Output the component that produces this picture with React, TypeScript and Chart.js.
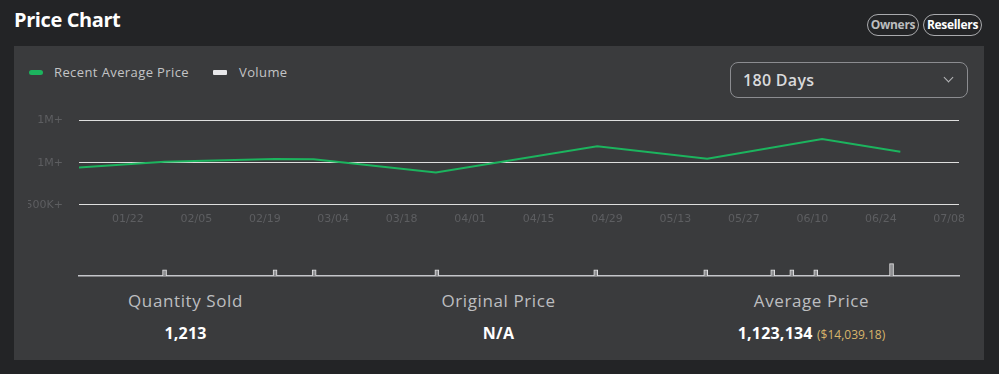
import React, { useEffect, useRef } from 'react';
import { Chart, registerables } from 'chart.js';

Chart.register(...registerables);

// ---- data ----
// day offsets from 01/12 (180-day window)
const priceDays = [0, 17.5, 40, 48, 73, 106, 128.5, 152, 168];
const priceValues = [944000, 1012000, 1044000, 1040000, 885000, 1194000, 1048000, 1282000, 1131000];
const volumeDays = [17.5, 40.1, 48.1, 73.2, 105.7, 128.2, 141.9, 145.8, 150.7, 166.2];
const volumeValues = [1, 1, 1, 1, 1, 1, 1, 1, 1, 2];
const xTickDays = [10, 24, 38, 52, 66, 80, 94, 108, 122, 136, 150, 164, 178];
const xTickLabels = ['01/22', '02/05', '02/19', '03/04', '03/18', '04/01', '04/15', '04/29', '05/13', '05/27', '06/10', '06/24', '07/08'];
const yTickValues = [500000, 1000000, 1500000];
const yTickLabels = ['500K+', '1M+', '1M+'];

const FONT = "'Open Sans', sans-serif";
const TICK_FONT = "'DejaVu Sans', sans-serif";
const GREEN = '#1cb45e';
const TICK_COLOR = '#5d5e61';

function PriceCanvas() {
  const ref = useRef<HTMLCanvasElement | null>(null);
  useEffect(() => {
    if (!ref.current) return;
    const chart = new Chart(ref.current, {
      type: 'line',
      data: {
        datasets: [
          {
            label: 'Recent Average Price',
            data: priceDays.map((d, i) => ({ x: d, y: priceValues[i] })),
            borderColor: GREEN,
            backgroundColor: GREEN,
            borderWidth: 2,
            pointRadius: 0,
            tension: 0,
            fill: false,
          },
        ],
      },
      options: {
        animation: false,
        responsive: false,
        maintainAspectRatio: false,
        layout: { padding: { top: 2, right: 25, bottom: 0, left: 0 } },
        plugins: { legend: { display: false }, tooltip: { enabled: false } },
        scales: {
          x: {
            type: 'linear',
            min: 0,
            max: 180,
            afterBuildTicks: (s: any) => {
              s.ticks = xTickDays.map((v) => ({ value: v }));
            },
            ticks: {
              callback: (_v: any, i: number) => xTickLabels[i],
              color: TICK_COLOR,
              font: { family: TICK_FONT, size: 11 },
              padding: 8,
              maxRotation: 0,
              autoSkip: false,
            },
            grid: { display: false, drawTicks: false },
            border: { display: false },
          },
          y: {
            type: 'linear',
            min: 500000,
            max: 1500000,
            afterBuildTicks: (s: any) => {
              s.ticks = yTickValues.map((v) => ({ value: v }));
            },
            afterFit: (s: any) => {
              s.width = 51;
            },
            ticks: {
              callback: (_v: any, i: number) => yTickLabels[i],
              color: TICK_COLOR,
              font: { family: TICK_FONT, size: 11 },
              padding: 16,
            },
            grid: { color: '#dedede', lineWidth: 1, drawTicks: false },
            border: { display: false },
          },
        },
      },
    } as any);
    return () => chart.destroy();
  }, []);
  return (
    <canvas
      ref={ref}
      width={956}
      height={136}
      style={{ position: 'absolute', left: 28, top: 98, width: 956, height: 136 }}
    />
  );
}

function VolumeCanvas() {
  const ref = useRef<HTMLCanvasElement | null>(null);
  useEffect(() => {
    if (!ref.current) return;
    const chart = new Chart(ref.current, {
      type: 'bar',
      data: {
        datasets: [
          {
            label: 'Volume',
            data: volumeDays.map((d, i) => ({ x: d, y: volumeValues[i] })),
            backgroundColor: '#8e8f92',
            borderColor: '#e4e4e6',
            borderWidth: 1,
            barThickness: 4,
          },
        ],
      },
      options: {
        animation: false,
        responsive: false,
        maintainAspectRatio: false,
        layout: { padding: { top: 0, right: 25, bottom: 1, left: 51 } },
        plugins: { legend: { display: false }, tooltip: { enabled: false } },
        scales: {
          x: {
            type: 'linear',
            min: 0,
            max: 180,
            offset: false,
            ticks: { display: false },
            grid: { display: false, drawTicks: false, offset: false },
            border: { display: true, color: '#c4c5ca', width: 1.5 },
          },
          y: { display: false, min: 0, max: 5 },
        },
      },
    } as any);
    return () => chart.destroy();
  }, []);
  return (
    <canvas
      ref={ref}
      width={956}
      height={32}
      style={{ position: 'absolute', left: 28, top: 245, width: 956, height: 32 }}
    />
  );
}

const pill: React.CSSProperties = {
  position: 'absolute',
  top: 14,
  height: 20,
  border: '1px solid #a9aaad',
  borderRadius: 11,
  fontSize: 12,
  fontWeight: 700,
  lineHeight: '20px',
  textAlign: 'center',
  letterSpacing: -0.3,
};

const statLabel: React.CSSProperties = {
  position: 'absolute',
  top: 289,
  width: 313,
  textAlign: 'center',
  fontSize: 17,
  fontWeight: 500,
  color: '#bdbec0',
  lineHeight: '24px',
  letterSpacing: 0.6,
};

const statValue: React.CSSProperties = {
  position: 'absolute',
  top: 322,
  width: 313,
  textAlign: 'center',
  fontSize: 16,
  fontWeight: 700,
  color: '#ffffff',
  lineHeight: '22px',
  letterSpacing: 0.2,
};

export default function App() {
  return (
    <div
      style={{
        position: 'absolute',
        left: 0,
        top: 0,
        width: 999,
        height: 374,
        background: '#232426',
        fontFamily: FONT,
        overflow: 'hidden',
      }}
    >
      <div style={{ position: 'absolute', left: 14, top: 6, fontSize: 20, fontWeight: 700, color: '#ffffff', letterSpacing: -0.4 }}>
        Price Chart
      </div>
      <div style={{ ...pill, left: 867, width: 50, color: '#bcbdbf' }}>Owners</div>
      <div style={{ ...pill, left: 923, width: 57, color: '#ffffff' }}>Resellers</div>

      <div style={{ position: 'absolute', left: 14, top: 46, width: 970, height: 314, background: '#3a3b3d' }} />

      {/* legend */}
      <div style={{ position: 'absolute', left: 29, top: 70, width: 14, height: 5, borderRadius: 3, background: GREEN }} />
      <div style={{ position: 'absolute', left: 54, top: 63, fontSize: 13, color: '#c3c4c6', lineHeight: '18px', letterSpacing: 0.4 }}>
        Recent Average Price
      </div>
      <div style={{ position: 'absolute', left: 213, top: 70, width: 14, height: 5, borderRadius: 1, background: '#e8e8ea' }} />
      <div style={{ position: 'absolute', left: 239, top: 63, fontSize: 13, color: '#c3c4c6', lineHeight: '18px', letterSpacing: 0.4 }}>
        Volume
      </div>

      {/* dropdown */}
      <div
        style={{
          position: 'absolute',
          left: 730,
          top: 62,
          width: 224,
          height: 34,
          border: '1px solid #8b8c90',
          borderRadius: 8,
          color: '#d9d9db',
          fontSize: 16,
          fontWeight: 600,
          lineHeight: '34px',
          paddingLeft: 12,
          letterSpacing: 0.3,
          boxSizing: 'content-box',
        }}
      >
        180 Days
      </div>
      <div
        style={{
          position: 'absolute',
          left: 945,
          top: 74,
          width: 6,
          height: 6,
          borderRight: '1.5px solid #b5b6b9',
          borderBottom: '1.5px solid #b5b6b9',
          transform: 'rotate(45deg)',
        }}
      />

      <PriceCanvas />
      <VolumeCanvas />

      {/* stats */}
      <div style={{ ...statLabel, left: 29 }}>Quantity Sold</div>
      <div style={{ ...statValue, left: 29 }}>1,213</div>
      <div style={{ ...statLabel, left: 342 }}>Original Price</div>
      <div style={{ ...statValue, left: 342 }}>N/A</div>
      <div style={{ ...statLabel, left: 655 }}>Average Price</div>
      <div style={{ ...statValue, left: 655 }}>
        1,123,134{' '}
        <span style={{ fontSize: 12, fontWeight: 500, color: '#d8b56b', letterSpacing: 0 }}>($14,039.18)</span>
      </div>
    </div>
  );
}
